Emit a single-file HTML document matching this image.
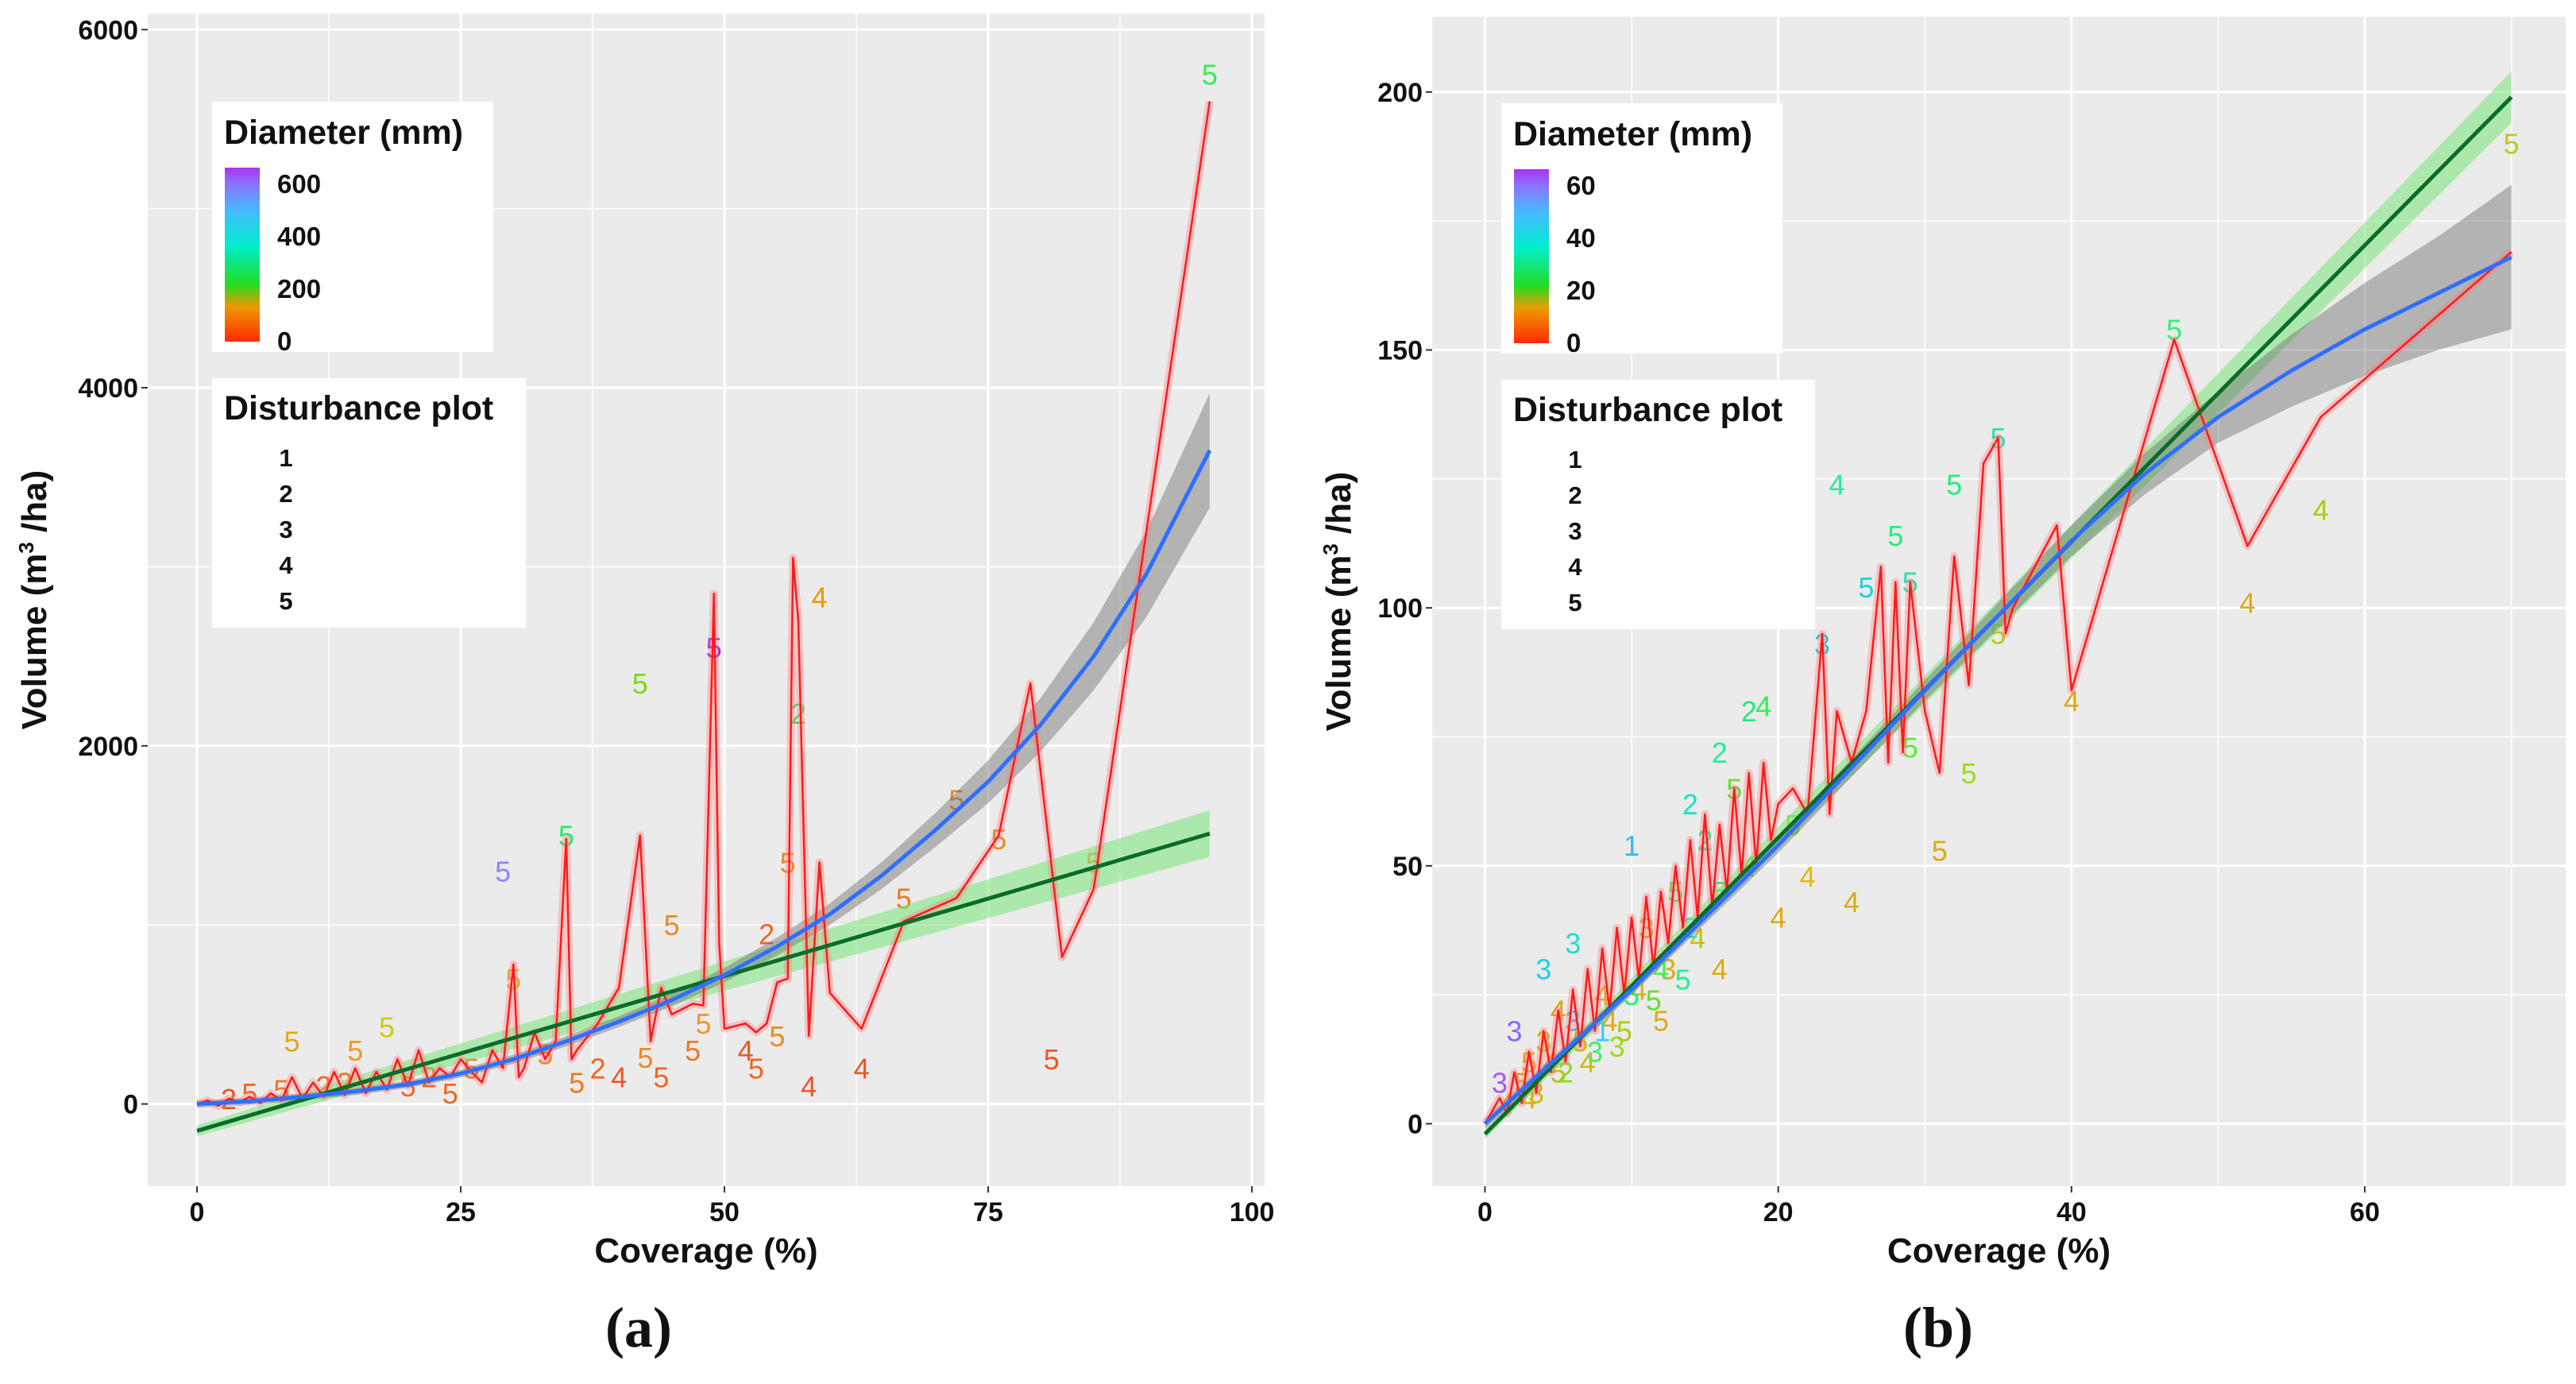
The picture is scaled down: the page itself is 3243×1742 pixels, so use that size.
<!DOCTYPE html>
<html><head><meta charset="utf-8"><style>
html,body{margin:0;padding:0;background:#fff;}
svg{display:block;font-family:"Liberation Sans",Arial,sans-serif;}
</style></head><body>
<svg id="root" width="3243" height="1742" viewBox="0 0 3243 1742" xmlns="http://www.w3.org/2000/svg">
<defs>
<linearGradient id="cbar" x1="0" y1="1" x2="0" y2="0">
<stop offset="0" stop-color="#ff2a00"/><stop offset="0.2" stop-color="#ee9900"/><stop offset="0.33" stop-color="#22dd22"/>
<stop offset="0.55" stop-color="#00eecc"/><stop offset="0.75" stop-color="#44bbff"/><stop offset="0.9" stop-color="#8877ff"/><stop offset="1" stop-color="#aa33ee"/>
</linearGradient>
</defs>
</svg>
<script>
// ---------- Panel (a) data ----------
const aRedX=[0,1,2,3,4,5,6,7,8,9,10,11,12,13,14,15,16,17,18,19,20,21,22,23,24,25,26,27,28,29,30,30.5,31,32,33,34,35,35.5,36,38,40,42,43,44,45,47,48,49,49.5,50,52,53,54,55,56,56.5,57,58,59,60,63,67,72,76,79,82,85,96];
const aRedY=[0,20,-10,30,10,40,5,60,20,150,30,120,40,180,50,200,60,180,80,250,100,300,120,200,150,250,180,120,300,200,780,150,200,400,250,350,1480,250,300,450,650,1500,350,650,500,560,550,2850,900,420,450,400,450,680,700,3050,2700,380,1350,620,420,1020,1150,1500,2350,820,1200,5600];
const aBlueX=[0,5,10,15,20,25,30,35,40,45,50,55,60,65,70,75,80,85,90,96];
const aBlueY=[0,15,40,70,110,170,250,350,460,580,720,880,1060,1280,1530,1800,2120,2500,2960,3650];
const aBlueSE=[20,20,20,20,20,22,25,28,30,35,40,50,60,75,95,120,150,190,240,320];
const aGreenX=[0,96];
const aGreenY=[-150,1510];
const aGreenSE=[30,130];
const aLabX=[96,49,42,57,59,35,29,72,76,85,67,56,45,54,30,9,18,15,81,63,58,47,44,38,40,52,55,48,26,33,22,12,5,8,14,20,24,3,36,42.5,53];
const aLabY=[5750,2550,2350,2180,2830,1500,1300,1700,1480,1350,1150,1350,1000,950,700,350,430,300,250,200,100,300,150,200,150,300,380,450,200,280,150,100,60,80,120,100,60,30,120,260,200];
const aLabT=["5","5","5","2","4","5","5","5","5","5","5","5","5","2","5","5","5","5","5","4","4","5","5","2","4","4","5","5","5","5","2","2","5","5","2","5","5","2","5","5","5"];
const aLabC=["#33ee55","#aa22ee","#77dd11","#44dd66","#ee9900","#22ee66","#8888ff","#ee8822","#ee8822","#ee9922","#ee7722","#ee8822","#ee8822","#ee6622","#eeaa22","#ddaa11","#cccc11","#ee9922","#ee5522","#ee5522","#ee5522","#ee7722","#ee6622","#ee6622","#ee5522","#ee5522","#ee8822","#ee9922","#ee7722","#ee8822","#ee6622","#ee6622","#ee6622","#ee7722","#ee7722","#ee6622","#ee6622","#ee5522","#ee7722","#ee8822","#ee6622"];
const aXTicks=[0,25,50,75,100];
const aYTicks=[0,2000,4000,6000];
// ---------- Panel (b) data ----------
const bRedX=[0,1,1.5,2,2.5,3,3.5,4,4.5,5,5.5,6,6.5,7,7.5,8,8.5,9,9.5,10,10.5,11,11.5,12,12.5,13,13.5,14,14.5,15,15.5,16,16.5,17,17.5,18,18.5,19,19.5,20,21,22,23,23.5,24,25,26,27,27.5,28,28.5,29,30,31,32,33,34,35,35.5,36,39,40,47,52,57,70];
const bRedY=[0,5,2,10,4,14,6,18,10,22,12,26,15,30,18,34,22,38,25,40,28,44,30,45,35,50,38,55,40,60,42,58,45,65,48,68,50,70,55,62,65,60,95,60,80,70,80,108,70,105,72,105,80,68,110,85,128,133,95,100,116,84,152,112,137,169];
const bBlueX=[0,10,20,30,40,45,50,55,60,65,70];
const bBlueY=[0,26,54,84,113,126,137,146,154,161,168];
const bBlueSE=[1,1,1.5,2,3,4,5,7,9,11,14];
const bGreenX=[0,70];
const bGreenY=[-2,199];
const bGreenSE=[1,5];
const bLabX=[70,47,57,52,40,35,24,32,28,26,29,23,10,14,18,19,16,31,33,20,16,2,1,4,35,29,22,25,6,8,12,3,5,9,13,11,7,15,17,21,1.5,2.5,3.5,4.5,5.5,6.5,7.5,8.5,9.5,10.5,11.5,12.5,13.5,14.5,6,8,10,12,14,16,18,3,4,5];
const bLabY=[190,154,119,101,82,133,124,124,114,104,105,93,54,62,80,81,72,53,68,40,30,18,8,30,95,73,48,43,35,25,20,5,10,15,45,38,12,55,65,58,4,8,6,12,10,16,14,20,18,26,24,30,28,36,20,18,25,30,38,45,50,12,16,22];
const bLabT=["5","5","4","4","4","5","4","5","5","5","5","3","1","2","2","4","2","5","5","4","4","3","3","3","5","5","4","4","3","4","5","4","5","3","5","3","4","2","5","5","4","5","3","4","2","5","3","4","5","4","5","3","5","4","3","1","5","4","2","5","4","5","3","4"];
const bLabC=["#bbcc11","#33ee77","#aacc11","#ddaa11","#ddaa11","#33ddaa","#22ee99","#22ee77","#22ee77","#22ccdd","#33ddaa","#22ccdd","#33bbff","#22ddcc","#22ee77","#33ee55","#22ee99","#ddaa11","#99dd11","#ddaa11","#ddaa11","#8866ff","#aa55ff","#22ccee","#bbcc11","#55ee33","#ddbb11","#ddaa11","#22ddcc","#ccbb11","#ddaa11","#ddaa11","#ccbb11","#99dd11","#44ee55","#ddaa11","#ccbb11","#22ee99","#66dd33","#88dd22","#ee9900","#ddaa11","#ccbb11","#ddaa11","#88dd22","#ccbb11","#44ee66","#ddaa11","#aacc11","#ccbb11","#66dd33","#ddaa11","#22ee99","#ccbb11","#22ccee","#33ccff","#22ee77","#44ee55","#22ddcc","#22ee77","#66dd33","#ddaa11","#ccbb11","#ddaa11"];
const bXTicks=[0,20,40,60];
const bYTicks=[0,50,100,150,200];

const NS="http://www.w3.org/2000/svg";
const root=document.getElementById('root');
function mk(tag,attrs,parent,text){const e=document.createElementNS(NS,tag);for(const k in attrs)e.setAttribute(k,attrs[k]);if(text!==undefined)e.textContent=text;(parent||root).appendChild(e);return e;}

function panel(P){
  const g=mk('g',{});
  
  
  const sx=v=>P.L+(v-P.x0)/(P.x1-P.x0)*(P.R-P.L);
  const sy=v=>P.B-(v-P.y0)/(P.y1-P.y0)*(P.B-P.T);
  const bg=mk('rect',{x:P.L,y:P.T,width:P.R-P.L,height:P.B-P.T,fill:'#ebebeb'},g);
  
  
  for(let i=0;i<P.xt.length;i++){const m=P.xt[i]+(P.xt[1]-P.xt[0])/2;if(sx(m)<P.R)mk('line',{x1:sx(m),x2:sx(m),y1:P.T,y2:P.B,stroke:'#fff','stroke-width':1.5},g);
    const mm=P.xt[i]-(P.xt[1]-P.xt[0])/2; if(i===0&&sx(mm)>P.L)mk('line',{x1:sx(mm),x2:sx(mm),y1:P.T,y2:P.B,stroke:'#fff','stroke-width':1.5},g);}
  for(let i=-1;i<P.yt.length;i++){const st=P.yt[1]-P.yt[0];const m=(i<0?P.yt[0]-st/2:P.yt[i]+st/2);const y=sy(m);if(y>P.T&&y<P.B)mk('line',{x1:P.L,x2:P.R,y1:y,y2:y,stroke:'#fff','stroke-width':1.5},g);}
  P.xt.forEach(t=>{const x=sx(t);mk('line',{x1:x,x2:x,y1:P.T,y2:P.B,stroke:'#fff','stroke-width':3},g);
    mk('line',{x1:x,x2:x,y1:P.B,y2:P.B+8,stroke:'#333','stroke-width':2},g);
    const tl=mk('text',{x:x,y:P.B+44,'text-anchor':'middle','font-size':34,'font-weight':'bold',fill:'#111'},g,String(t));
    });
  P.yt.forEach(t=>{const y=sy(t);mk('line',{x1:P.L,x2:P.R,y1:y,y2:y,stroke:'#fff','stroke-width':3},g);
    mk('line',{x1:P.L-8,x2:P.L,y1:y,y2:y,stroke:'#333','stroke-width':2},g);
    const tl=mk('text',{x:P.L-12,y:y+12,'text-anchor':'end','font-size':34,'font-weight':'bold',fill:'#111'},g,String(t));
    });
  for(let i=0;i<P.lx.length;i++){const t=mk('text',{x:sx(P.lx[i]),y:sy(P.ly[i])+13,'text-anchor':'middle','font-size':36,fill:P.lc[i]},g,P.lt[i]);
    }
  function ribbon(X,Y,S,fill,name){let up=[],dn=[];for(let i=0;i<X.length;i++){up.push(sx(X[i])+','+sy(Y[i]+S[i]));dn.unshift(sx(X[i])+','+sy(Y[i]-S[i]));}
    const p=mk('polygon',{points:up.concat(dn).join(' '),fill:fill},g);}
  function line(X,Y,col,w,name){const pts=X.map((x,i)=>sx(x)+','+sy(Y[i])).join(' ');const p=mk('polyline',{points:pts,fill:'none',stroke:col,'stroke-width':w,'stroke-linejoin':'round'},g);}
  ribbon(P.gx,P.gy,P.gs,'rgba(120,230,120,0.55)','linear-fit-ribbon');
  ribbon(P.bx,P.by,P.bs,'rgba(110,110,110,0.45)','smooth-fit-ribbon');
  line(P.rx,P.ry,'rgba(255,120,120,0.35)',10,'observed-ribbon');
  line(P.rx,P.ry,'#ff1a1a',2.5,'observed-line');
  line(P.gx,P.gy,'#0b6b2a',5,'linear-fit-line');
  line(P.bx,P.by,'#2f6fff',5,'smooth-fit-line');
  const xt=mk('text',{x:(P.L+P.R)/2,y:P.B+96,'text-anchor':'middle','font-size':44,'font-weight':'bold',fill:'#111'},g,'Coverage (%)');
  
  const yt=mk('text',{x:0,y:0,'text-anchor':'middle','font-size':44,'font-weight':'bold',fill:'#111',transform:'translate('+P.ytx+','+((P.T+P.B)/2)+') rotate(-90)'},g);
  
  mk('tspan',{},yt,'Volume (m');mk('tspan',{'font-size':26,dy:-16},yt,'3');mk('tspan',{dy:16},yt,' /ha)');
  const L1=mk('g',{},g);
  mk('rect',{x:P.lgx,y:P.lgy,width:354,height:315,fill:'#fff'},L1);
  mk('text',{x:P.lgx+15,y:P.lgy+53,'font-size':43,'font-weight':'bold',fill:'#111'},L1,'Diameter (mm)');
  mk('rect',{x:P.lgx+16,y:P.lgy+83,width:44,height:219,fill:'url(#cbar)'},L1);
  P.cb.forEach((t,i)=>{mk('text',{x:P.lgx+82,y:P.lgy+115+i*66,'font-size':33,'font-weight':'bold',fill:'#111'},L1,t);});
  const L2=mk('g',{},g);
  mk('rect',{x:P.lgx,y:P.lgy+348,width:P.l2w,height:314,fill:'#fff'},L2);
  mk('text',{x:P.lgx+15,y:P.lgy+400,'font-size':43,'font-weight':'bold',fill:'#111'},L2,'Disturbance plot');
  ['1','2','3','4','5'].forEach((t,i)=>{mk('text',{x:P.lgx+93,y:P.lgy+459+i*45,'text-anchor':'middle','font-size':31,'font-weight':'bold',fill:'#111'},L2,t);});
  const cap=mk('text',{x:P.capx,y:1695,'text-anchor':'middle','font-size':72,'font-weight':'bold','font-family':'Liberation Serif, serif',fill:'#111'},g,P.cap);
  
}
panel({id:'a',L:186,R:1592,T:17,B:1493,x0:-4.67,x1:101.2,y0:-459,y1:6090,xt:aXTicks,yt:aYTicks,
  rx:aRedX,ry:aRedY,bx:aBlueX,by:aBlueY,bs:aBlueSE,gx:aGreenX,gy:aGreenY,gs:aGreenSE,
  lx:aLabX,ly:aLabY,lt:aLabT,lc:aLabC,ytx:58,lgx:267,lgy:128,l2w:395,cb:['600','400','200','0'],capx:804,cap:'(a)'});
panel({id:'b',L:1803,R:3230,T:21,B:1493,x0:-3.6,x1:73.7,y0:-12.1,y1:214.6,xt:bXTicks,yt:bYTicks,
  rx:bRedX,ry:bRedY,bx:bBlueX,by:bBlueY,bs:bBlueSE,gx:bGreenX,gy:bGreenY,gs:bGreenSE,
  lx:bLabX,ly:bLabY,lt:bLabT,lc:bLabC,ytx:1700,lgx:1890,lgy:130,l2w:395,cb:['60','40','20','0'],capx:2440,cap:'(b)'});
</script>
</body></html>
